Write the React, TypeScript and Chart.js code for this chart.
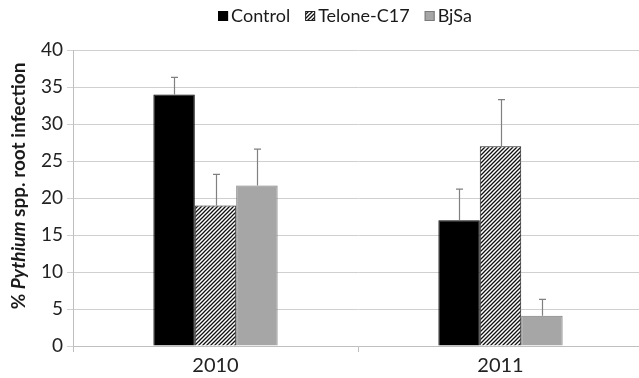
import React, { useEffect, useRef } from "react";
import { Chart, registerables } from "chart.js";

Chart.register(...registerables);

// Years sampled
const years = ["2010", "2011"];

// Treatment names
const treatments = ["Control", "Telone-C17", "BjSa"];

// Mean % root infection per treatment, by year
const controlMeans = [34, 17];
const teloneMeans = [19, 27];
const bjsaMeans = [21.7, 4.1];

// Upper error (standard error) per treatment, by year
const controlErr = [2.3, 4.2];
const teloneErr = [4.2, 6.3];
const bjsaErr = [4.9, 2.2];

const yTicks = [0, 5, 10, 15, 20, 25, 30, 35, 40];

const FONT = "Lato, 'Open Sans', sans-serif";

function makeHatch(): CanvasPattern | string {
  const c = document.createElement("canvas");
  c.width = 4;
  c.height = 4;
  const g = c.getContext("2d");
  if (!g) return "#777";
  g.fillStyle = "#ffffff";
  g.fillRect(0, 0, 4, 4);
  g.strokeStyle = "#111111";
  g.lineWidth = 1.3;
  g.beginPath();
  g.moveTo(-1, 5);
  g.lineTo(5, -1);
  g.moveTo(-1, 1);
  g.lineTo(1, -1);
  g.moveTo(3, 5);
  g.lineTo(5, 3);
  g.stroke();
  const p = g.createPattern(c, "repeat");
  return p || "#777";
}

// Draws the upper error whiskers on each bar
const errorBars = {
  id: "errorBars",
  afterDatasetsDraw(chart: any) {
    const ctx = chart.ctx;
    const y = chart.scales.y;
    ctx.save();
    ctx.strokeStyle = "#808080";
    ctx.lineWidth = 1.2;
    chart.data.datasets.forEach((ds: any, di: number) => {
      const meta = chart.getDatasetMeta(di);
      meta.data.forEach((bar: any, i: number) => {
        const v = ds.data[i];
        const e = ds.errors[i];
        const top = y.getPixelForValue(v + e);
        const x = Math.round(bar.x) + 0.5;
        ctx.beginPath();
        ctx.moveTo(x, bar.y);
        ctx.lineTo(x, top);
        ctx.moveTo(x - 3.5, top);
        ctx.lineTo(x + 3.5, top);
        ctx.stroke();
      });
    });
    ctx.restore();
  },
};

// Axis title with italic genus name, and the top legend
const annotations = {
  id: "annotations",
  afterDraw(chart: any) {
    const ctx = chart.ctx;
    const area = chart.chartArea;
    ctx.save();
    // y-axis title
    const parts: [string, string][] = [
      ["% ", "bold"],
      ["Pythium", "italic bold"],
      [" spp. root infection", "bold"],
    ];
    const size = 19;
    let total = 0;
    parts.forEach(([t, s]) => {
      ctx.font = `${s} ${size}px ${FONT}`;
      total += ctx.measureText(t).width;
    });
    ctx.translate(19, (area.top + area.bottom) / 2 - 12);
    ctx.rotate(-Math.PI / 2);
    ctx.textBaseline = "middle";
    ctx.fillStyle = "#1a1a1a";
    let x = -total / 2;
    parts.forEach(([t, s]) => {
      ctx.font = `${s} ${size}px ${FONT}`;
      ctx.fillText(t, x, 0);
      x += ctx.measureText(t).width;
    });
    ctx.restore();

    // legend
    ctx.save();
    const lsize = 18;
    ctx.font = `${lsize}px ${FONT}`;
    const box = 10;
    const gapBox = 3;
    const gapItem = 15;
    const widths = treatments.map((t) => ctx.measureText(t).width);
    const legendW =
      widths.reduce((a, b) => a + b, 0) + treatments.length * (box + gapBox) + gapItem * (treatments.length - 1);
    let lx = 345 - legendW / 2;
    const ly = 16;
    ctx.textBaseline = "middle";
    chart.data.datasets.forEach((ds: any, i: number) => {
      ctx.fillStyle = ds.backgroundColor;
      ctx.fillRect(lx, ly - box / 2, box, box);
      ctx.strokeStyle = ds.borderColor;
      ctx.lineWidth = 1;
      ctx.strokeRect(lx + 0.5, ly - box / 2 + 0.5, box - 1, box - 1);
      lx += box + gapBox;
      ctx.fillStyle = "#1a1a1a";
      ctx.fillText(treatments[i], lx, ly);
      lx += widths[i] + gapItem;
    });
    ctx.restore();
  },
};

export default function App() {
  const ref = useRef<HTMLCanvasElement | null>(null);

  useEffect(() => {
    if (!ref.current) return;
    const hatch = makeHatch();
    const chart = new Chart(ref.current, {
      type: "bar",
      data: {
        labels: years,
        datasets: [
          {
            label: treatments[0],
            data: controlMeans,
            errors: controlErr,
            backgroundColor: "#000000",
            borderColor: "#000000",
            borderWidth: 1,
          } as any,
          {
            label: treatments[1],
            data: teloneMeans,
            errors: teloneErr,
            backgroundColor: hatch,
            borderColor: "#222222",
            borderWidth: 1,
          } as any,
          {
            label: treatments[2],
            data: bjsaMeans,
            errors: bjsaErr,
            backgroundColor: "#a6a6a6",
            borderColor: "#7a7a7a",
            borderWidth: 1,
          } as any,
        ],
      },
      options: {
        animation: false,
        responsive: false,
        maintainAspectRatio: false,
        layout: { padding: { top: 50, right: 37, bottom: 0, left: 0 } },
        datasets: { bar: { categoryPercentage: 0.436, barPercentage: 1 } },
        plugins: {
          legend: { display: false },
          tooltip: { enabled: false },
        },
        scales: {
          x: {
            grid: {
              display: true,
              drawOnChartArea: false,
              offset: true,
              tickLength: 6,
              color: "#bfbfbf",
            },
            border: { color: "#bfbfbf" },
            ticks: {
              font: { family: FONT, size: 20 },
              color: "#222222",
              padding: 2,
            },
            afterFit(scale: any) {
              scale.height = 32;
            },
          },
          y: {
            min: 0,
            max: 40,
            afterBuildTicks(scale: any) {
              scale.ticks = yTicks.map((v) => ({ value: v }));
            },
            grid: { color: "#d0d0d0", tickLength: 6 },
            border: { color: "#bfbfbf" },
            ticks: {
              font: { family: FONT, size: 19 },
              color: "#222222",
              padding: 4,
            },
            afterFit(scale: any) {
              scale.width = 73;
            },
          },
        },
      } as any,
      plugins: [errorBars, annotations],
    });
    return () => chart.destroy();
  }, []);

  return (
    <div
      style={{
        position: "fixed",
        left: 0,
        top: 0,
        width: 639,
        height: 378,
        overflow: "hidden",
        background: "#ffffff",
      }}
    >
      <canvas ref={ref} width={680} height={378} style={{ display: "block" }} />
    </div>
  );
}
